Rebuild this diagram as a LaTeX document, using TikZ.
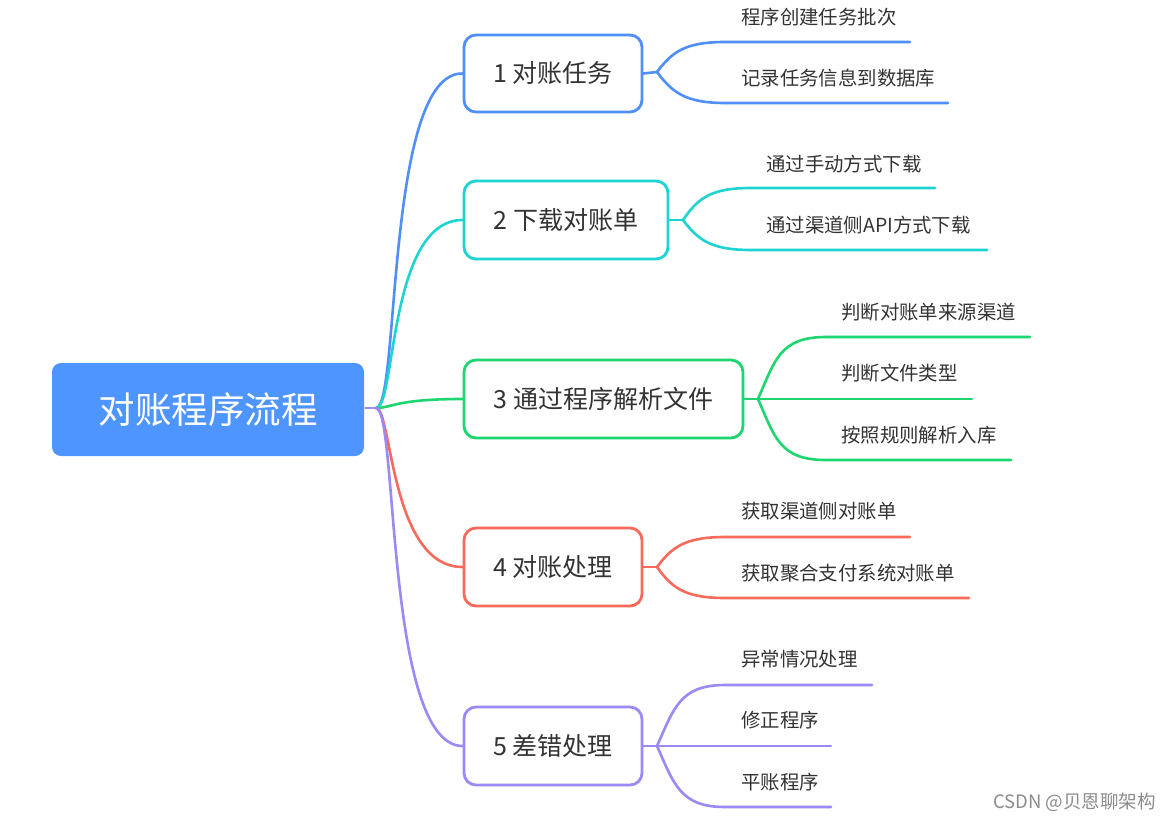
\documentclass[tikz,border=0pt]{standalone}
\usepackage{fontspec}
\setmainfont{Noto Sans CJK SC}
\begin{document}
\begin{tikzpicture}[x=1pt,y=-1pt,
  line width=2.6pt,
  branchbox/.style={draw, rounded corners=12pt, fill=white, inner sep=0pt, text=txt, font=\fontsize{25}{25}\selectfont, line width=2.8pt},
  leaftext/.style={anchor=west, inner sep=0pt, text=txt, font=\fontsize{19.4}{19.4}\selectfont},
  link/.style={line width=2.6pt, line cap=round}]
\definecolor{rootc}{HTML}{4E95FF}
\definecolor{c1}{HTML}{4F8FF7}
\definecolor{c2}{HTML}{1FD3D3}
\definecolor{c3}{HTML}{1ED670}
\definecolor{c4}{HTML}{F86A5C}
\definecolor{c5}{HTML}{9B8AF5}
\definecolor{txt}{HTML}{333333}
\useasboundingbox (0,0) rectangle (1172,821);
\fill[white] (0,0) rectangle (1172,821);

% root
\node[fill=rootc, rounded corners=9pt, minimum width=312pt, minimum height=93pt, inner sep=0pt, text=white, font=\fontsize{36.5}{36.5}\selectfont] (root) at (208,409.5) {对账程序流程};
\coordinate (fork) at (376,408);

% branch nodes
\node[branchbox, draw=c1, minimum width=178pt, minimum height=77pt] (b1) at (553,73.5) {1 对账任务};
\node[branchbox, draw=c2, minimum width=204pt, minimum height=78pt] (b2) at (566,220) {2 下载对账单};
\node[branchbox, draw=c3, minimum width=279pt, minimum height=78pt] (b3) at (603.5,399) {3 通过程序解析文件};
\node[branchbox, draw=c4, minimum width=178pt, minimum height=78pt] (b4) at (553,567) {4 对账处理};
\node[branchbox, draw=c5, minimum width=178pt, minimum height=78pt] (b5) at (553,746) {5 差错处理};

% root to branches
\draw[link, c5] (root.east |- fork) -- (fork);
\draw[link, c1] (fork) .. controls (400,408) and (385,72) .. (b1.west);
\draw[link, c2] (fork) .. controls (396,408) and (388,220) .. (b2.west);
\draw[link, c3] (fork) .. controls (392,408) and (395,399) .. (b3.west);
\draw[link, c4] (fork) .. controls (392,408) and (390,567) .. (b4.west);
\draw[link, c5] (fork) .. controls (398,408) and (385,746) .. (b5.west);

% leaves
\node[leaftext] (l11) at (740,17) {程序创建任务批次};
\node[leaftext] (l12) at (740,78) {记录任务信息到数据库};
\node[leaftext] (l21) at (765,164) {通过手动方式下载};
\node[leaftext] (l22) at (765,225) {通过渠道侧API方式下载};
\node[leaftext] (l31) at (840,312) {判断对账单来源渠道};
\node[leaftext] (l32) at (840,373) {判断文件类型};
\node[leaftext] (l33) at (840,435) {按照规则解析入库};
\node[leaftext] (l41) at (740,511) {获取渠道侧对账单};
\node[leaftext] (l42) at (740,573) {获取聚合支付系统对账单};
\node[leaftext] (l51) at (740,659) {异常情况处理};
\node[leaftext] (l52) at (740,720) {修正程序};
\node[leaftext] (l53) at (740,782) {平账程序};

\coordinate (f1) at (657,72);
\coordinate (f2) at (683,220);
\coordinate (f3) at (758,399);
\coordinate (f4) at (657,567);
\coordinate (f5) at (657,746);
\coordinate (e11) at (910,42);
\coordinate (e12) at (948,103);
\coordinate (e21) at (935,188);
\coordinate (e22) at (987,250);
\coordinate (e31) at (1030,337);
\coordinate (e32) at (972,399);
\coordinate (e33) at (1011,460);
\coordinate (e41) at (910,537);
\coordinate (e42) at (969,598);
\coordinate (e51) at (872,685);
\coordinate (e52) at (831,746);
\coordinate (e53) at (831,807);

\draw[link, c1] (b1.east) -- (f1);
\draw[link, c1] (f1) .. controls (672,52) and (685,42) .. (725,42) -- (e11);
\draw[link, c1] (f1) .. controls (672,92) and (685,103) .. (725,103) -- (e12);
\draw[link, c2] (b2.east) -- (f2);
\draw[link, c2] (f2) .. controls (698,198) and (711,188) .. (751,188) -- (e21);
\draw[link, c2] (f2) .. controls (698,240) and (711,250) .. (751,250) -- (e22);
\draw[link, c3] (b3.east) -- (f3);
\draw[link, c3] (f3) .. controls (775,360) and (780,337) .. (826,337) -- (e31);
\draw[link, c3] (f3) -- (e32);
\draw[link, c3] (f3) .. controls (775,438) and (780,460) .. (826,460) -- (e33);
\draw[link, c4] (b4.east) -- (f4);
\draw[link, c4] (f4) .. controls (672,547) and (685,537) .. (725,537) -- (e41);
\draw[link, c4] (f4) .. controls (672,588) and (685,598) .. (725,598) -- (e42);
\draw[link, c5] (b5.east) -- (f5);
\draw[link, c5] (f5) .. controls (674,708) and (680,685) .. (725,685) -- (e51);
\draw[link, c5] (f5) -- (e52);
\draw[link, c5] (f5) .. controls (674,784) and (680,807) .. (725,807) -- (e53);

% watermark
\node[anchor=east, inner sep=0pt, text=black!45, font=\fontsize{18.5}{18.5}\selectfont] (wm) at (1157,802) {CSDN @贝恩聊架构};
\end{tikzpicture}
\end{document}
